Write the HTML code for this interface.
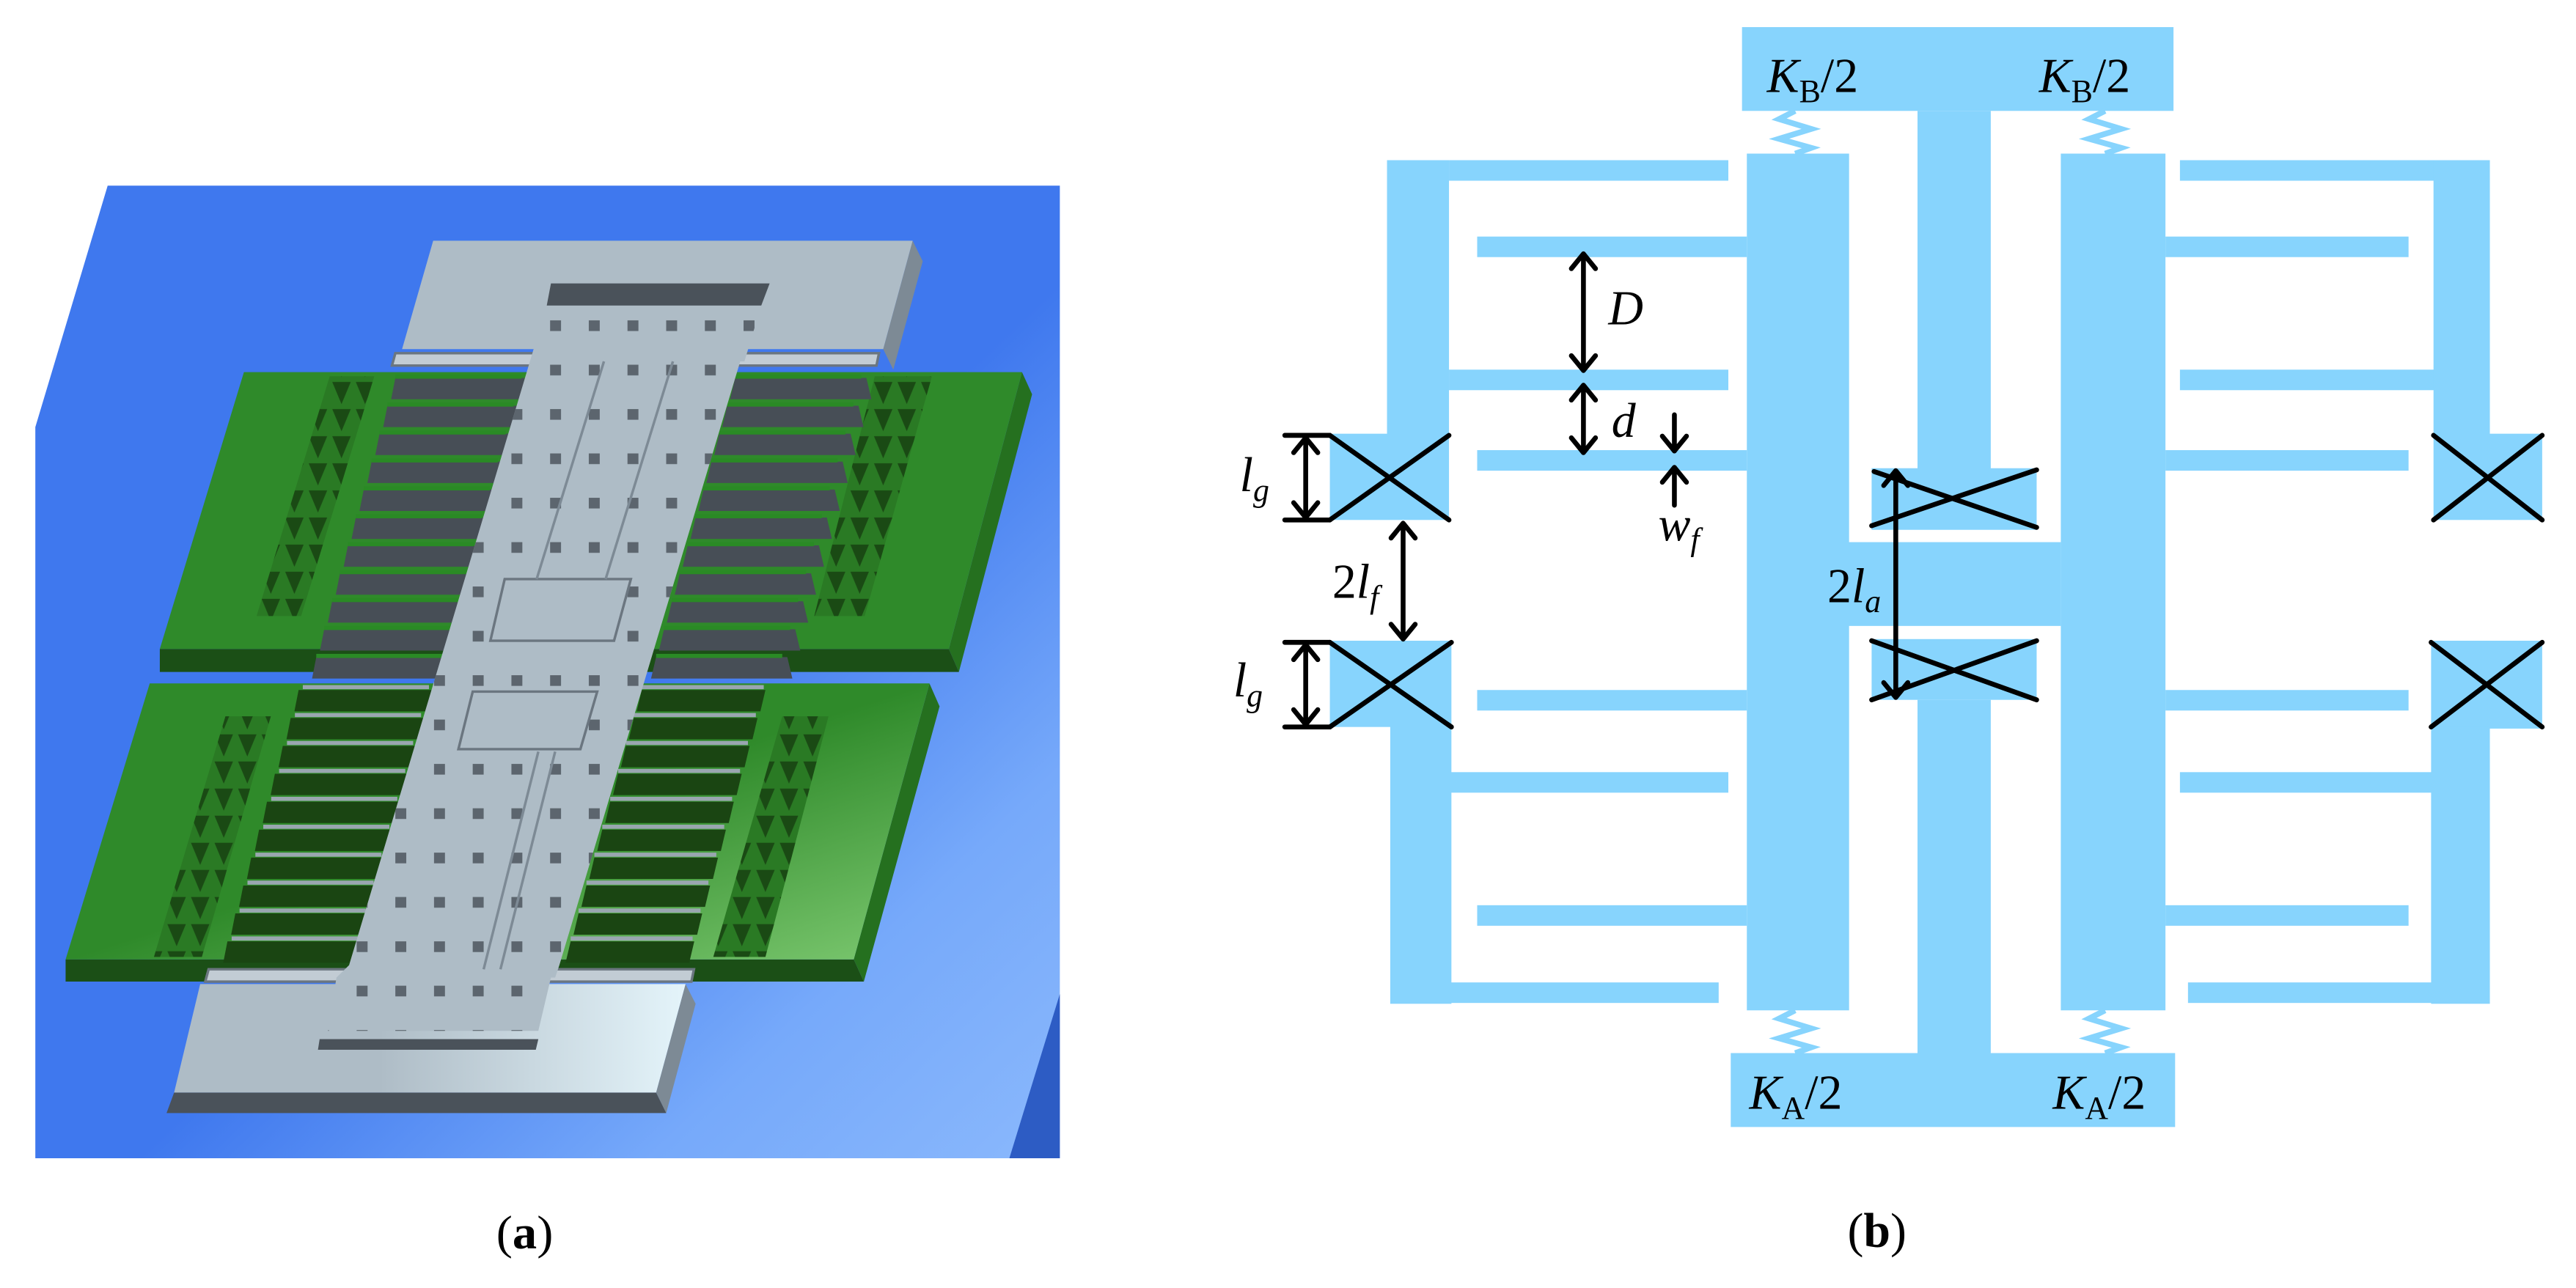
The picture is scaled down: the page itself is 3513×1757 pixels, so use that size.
<!DOCTYPE html>
<html><head><meta charset="utf-8"><style>html,body{margin:0;padding:0;background:#fff}svg{display:block}</style></head>
<body>
<svg width="3513" height="1757" viewBox="0 0 1568 784" preserveAspectRatio="none" xmlns="http://www.w3.org/2000/svg">
<defs>
<linearGradient id="bg" x1="0" y1="0" x2="1" y2="1">
<stop offset="0.55" stop-color="#3f78ee"/><stop offset="0.8" stop-color="#76a9fa"/><stop offset="1" stop-color="#8ab8fc"/>
</linearGradient>
<linearGradient id="gr2" x1="0" y1="0" x2="1" y2="1">
<stop offset="0.5" stop-color="#2f8a2a"/><stop offset="1" stop-color="#7cc870"/>
</linearGradient>
<linearGradient id="gy2" x1="0" y1="0" x2="1" y2="0">
<stop offset="0.4" stop-color="#aebcc6"/><stop offset="1" stop-color="#e4f4fa"/>
</linearGradient>
<pattern id="dots" patternUnits="userSpaceOnUse" width="46" height="54">
<rect x="10" y="12" width="13" height="13" fill="#4e565e"/>
</pattern>
<pattern id="grid" patternUnits="userSpaceOnUse" width="28" height="33">
<rect width="28" height="33" fill="#2a7a24"/>
<polygon points="3,3 25,3 14,30" fill="#1a4a14"/>
</pattern>
</defs>

<!-- (a) -->
<g transform="scale(0.512,0.5)">
<polygon points="128,226 1260,226 1260,1410 42,1410 42,520" fill="url(#bg)"/>
<polygon points="1200,1410 1260,1210 1260,1410" fill="#2d5cc4"/>
<polygon points="1085,293 1097,318 1062,450 1050,425" fill="#7d8a95"/>
<polygon points="515,293 1085,293 1050,425 478,425" fill="#aebcc6"/>
<polygon points="1215,453 1227,480 1140,818 1128,790" fill="#25701f"/>
<polygon points="190,790 1128,790 1140,818 190,818" fill="#1b4f16"/>
<polygon points="290,453 1215,453 1128,790 190,790" fill="#2f8a2a"/>
<polygon points="1105,832 1117,860 1027,1195 1015,1168" fill="#25701f"/>
<polygon points="78,1168 1015,1168 1027,1195 78,1195" fill="#1b4f16"/>
<polygon points="178,832 1105,832 1015,1168 78,1168" fill="url(#gr2)"/>
<polygon points="392,458 445,458 358,750 305,750" fill="url(#grid)"/>
<polygon points="1040,458 1108,458 1028,750 968,750" fill="url(#grid)"/>
<polygon points="268,872 322,872 240,1165 183,1165" fill="url(#grid)"/>
<polygon points="930,872 985,872 910,1165 848,1165" fill="url(#grid)"/>
<g id="ful"><polygon points="470,460 624,460 618,486 465,486" fill="#474e56"/><rect x="470" y="456" width="150" height="5" fill="#2a8a25"/></g>
<use href="#ful" transform="translate(-9.4,34)"/><use href="#ful" transform="translate(-18.8,68)"/><use href="#ful" transform="translate(-28.2,102)"/><use href="#ful" transform="translate(-37.6,136)"/><use href="#ful" transform="translate(-47,170)"/><use href="#ful" transform="translate(-56.4,204)"/><use href="#ful" transform="translate(-65.8,238)"/><use href="#ful" transform="translate(-75.2,272)"/><use href="#ful" transform="translate(-84.6,306)"/><use href="#ful" transform="translate(-94,340)"/>
<g id="fur"><polygon points="874,460 1030,460 1036,486 868,486" fill="#474e56"/><rect x="874" y="456" width="150" height="5" fill="#2a8a25"/></g>
<use href="#fur" transform="translate(-9.4,34)"/><use href="#fur" transform="translate(-18.8,68)"/><use href="#fur" transform="translate(-28.2,102)"/><use href="#fur" transform="translate(-37.6,136)"/><use href="#fur" transform="translate(-47,170)"/><use href="#fur" transform="translate(-56.4,204)"/><use href="#fur" transform="translate(-65.8,238)"/><use href="#fur" transform="translate(-75.2,272)"/><use href="#fur" transform="translate(-84.6,306)"/><use href="#fur" transform="translate(-94,340)"/>
<g id="fll"><rect x="360" y="834" width="150" height="5" fill="#9aa6b0"/><polygon points="355,840 513,840 507,866 350,866" fill="#1a4512"/></g>
<use href="#fll" transform="translate(-9.4,34)"/><use href="#fll" transform="translate(-18.8,68)"/><use href="#fll" transform="translate(-28.2,102)"/><use href="#fll" transform="translate(-37.6,136)"/><use href="#fll" transform="translate(-47,170)"/><use href="#fll" transform="translate(-56.4,204)"/><use href="#fll" transform="translate(-65.8,238)"/><use href="#fll" transform="translate(-75.2,272)"/><use href="#fll" transform="translate(-84.6,306)"/>
<g id="flr"><rect x="763" y="834" width="145" height="5" fill="#9aa6b0"/><polygon points="763,840 910,840 904,866 757,866" fill="#1a4512"/></g>
<use href="#flr" transform="translate(-9.4,34)"/><use href="#flr" transform="translate(-18.8,68)"/><use href="#flr" transform="translate(-28.2,102)"/><use href="#flr" transform="translate(-37.6,136)"/><use href="#flr" transform="translate(-47,170)"/><use href="#flr" transform="translate(-56.4,204)"/><use href="#flr" transform="translate(-65.8,238)"/><use href="#flr" transform="translate(-75.2,272)"/><use href="#flr" transform="translate(-84.6,306)"/>
<polygon points="470,430 1045,430 1042,445 466,445" fill="#c2ccd4" stroke="#6b7680" stroke-width="3"/>
<polygon points="248,1180 825,1180 822,1195 244,1195" fill="#c2ccd4" stroke="#6b7680" stroke-width="3"/>
<polygon points="815,1198 827,1222 792,1355 780,1330" fill="#7d8a95"/>
<polygon points="207,1330 780,1330 792,1355 198,1355" fill="#4a525a"/>
<polygon points="238,1198 815,1198 780,1330 207,1330" fill="url(#gy2)"/>
<polygon points="655,345 915,345 905,372 650,372" fill="#4a525a"/>
<polygon points="650,372 905,372 885,440 880,440 665,1175 660,1190 655,1190 640,1255 390,1255 400,1190 415,1175 630,440" fill="#aebcc6"/>
<polygon points="650,372 905,372 885,440 880,440 665,1175 660,1190 655,1190 640,1255 390,1255 400,1190 415,1175 630,440" fill="url(#dots)" opacity="0.85"/>
<polygon points="632,705 750,705 730,780 583,780 600,705" fill="#aebcc6" stroke="#6b7680" stroke-width="3"/>
<polygon points="562,842 710,842 690,912 545,912" fill="#aebcc6" stroke="#6b7680" stroke-width="3"/>
<polyline points="718,440 638,705" fill="none" stroke="#7d8a95" stroke-width="3"/>
<polyline points="800,440 720,705" fill="none" stroke="#7d8a95" stroke-width="3"/>
<polyline points="640,915 575,1180" fill="none" stroke="#7d8a95" stroke-width="3"/>
<polyline points="660,915 595,1180" fill="none" stroke="#7d8a95" stroke-width="3"/>
<polygon points="380,1265 640,1265 637,1278 378,1278" fill="#4a525a"/>
<text x="590" y="1520" font-family="Liberation Serif, serif" font-size="58">(<tspan font-weight="bold">a</tspan>)</text>
</g>

<!-- (b) -->
<g transform="translate(803.6,0) scale(0.49,0.5)" fill="#87d4fd">
<rect x="524" y="33" width="536" height="102"/>
<rect x="742" y="135" width="91" height="440"/>
<rect x="685" y="570" width="205" height="75"/>
<rect x="655" y="660" width="265" height="102"/>
<rect x="685" y="778" width="205" height="74"/>
<rect x="742" y="852" width="91" height="433"/>
<rect x="510" y="1282" width="552" height="90"/>
<rect x="530" y="187" width="127" height="1043"/>
<rect x="920" y="187" width="130" height="1043"/>
<rect x="195" y="288" width="335" height="25"/><rect x="195" y="548" width="335" height="25"/><rect x="195" y="840" width="335" height="25"/><rect x="195" y="1102" width="335" height="25"/>
<rect x="1050" y="288" width="302" height="25"/><rect x="1050" y="548" width="302" height="25"/><rect x="1050" y="840" width="302" height="25"/><rect x="1050" y="1102" width="302" height="25"/>
<rect x="160" y="195" width="347" height="25"/><rect x="160" y="450" width="347" height="25"/><rect x="160" y="940" width="347" height="25"/><rect x="160" y="1196" width="335" height="25"/>
<rect x="1068" y="195" width="320" height="25"/><rect x="1068" y="450" width="320" height="25"/><rect x="1068" y="940" width="320" height="25"/><rect x="1078" y="1196" width="310" height="25"/>
<rect x="83" y="195" width="77" height="340"/>
<rect x="12" y="528" width="148" height="105"/>
<rect x="12" y="780" width="151" height="105"/>
<rect x="87" y="880" width="76" height="342"/>
<rect x="1383" y="195" width="70" height="340"/>
<rect x="1383" y="528" width="135" height="105"/>
<rect x="1380" y="780" width="138" height="107"/>
<rect x="1380" y="885" width="73" height="337"/>
<g fill="none" stroke="#87d4fd" stroke-width="7">
<polyline points="590,135 570,145 610,157 570,169 610,180 590,187"/>
<polyline points="975,135 955,145 995,157 955,169 995,180 975,187"/>
<polyline points="590,1230 570,1240 610,1252 570,1264 610,1275 590,1282"/>
<polyline points="975,1230 955,1240 995,1252 955,1264 995,1275 975,1282"/>
</g>
<g stroke="#000" stroke-width="6" fill="none" stroke-linecap="round" stroke-linejoin="round">
<line x1="12" y1="530" x2="160" y2="633"/><line x1="12" y1="633" x2="160" y2="530"/>
<line x1="12" y1="782" x2="163" y2="885"/><line x1="12" y1="885" x2="163" y2="782"/>
<line x1="1383" y1="633" x2="1518" y2="530"/><line x1="1383" y1="530" x2="1518" y2="633"/>
<line x1="1380" y1="885" x2="1518" y2="782"/><line x1="1380" y1="782" x2="1518" y2="885"/>
<line x1="685" y1="640" x2="890" y2="572"/><line x1="688" y1="574" x2="890" y2="642"/>
<line x1="685" y1="852" x2="890" y2="780"/><line x1="685" y1="780" x2="890" y2="852"/>
<line x1="-44" y1="530" x2="12" y2="530"/><line x1="-44" y1="633" x2="12" y2="633"/>
<line x1="-44" y1="782" x2="12" y2="782"/><line x1="-44" y1="885" x2="12" y2="885"/>
<!-- arrows -->
<path d="M-18,533 V630 M-33,551 L-18,533 L-3,551 M-33,612 L-18,630 L-3,612"/>
<path d="M-18,785 V882 M-33,803 L-18,785 L-3,803 M-33,864 L-18,882 L-3,864"/>
<path d="M103,637 V778 M88,655 L103,637 L118,655 M88,760 L103,778 L118,760"/>
<path d="M327,309 V451 M312,327 L327,309 L342,327 M312,433 L327,451 L342,433"/>
<path d="M327,469 V551 M312,487 L327,469 L342,487 M312,533 L327,551 L342,533"/>
<path d="M440,505 V549 M425,531 L440,549 L455,531"/>
<path d="M440,615 V569 M425,587 L440,569 L455,587"/>
<path d="M715,573 V849 M700,591 L715,573 L730,591 M700,831 L715,849 L730,831"/>
</g>
<g fill="#000" font-family="Liberation Serif, serif" font-size="60">
<text x="555" y="112"><tspan font-style="italic">K</tspan><tspan font-size="40" dy="12">B</tspan><tspan dy="-12">/2</tspan></text>
<text x="893" y="112"><tspan font-style="italic">K</tspan><tspan font-size="40" dy="12">B</tspan><tspan dy="-12">/2</tspan></text>
<text x="533" y="1350"><tspan font-style="italic">K</tspan><tspan font-size="40" dy="12">A</tspan><tspan dy="-12">/2</tspan></text>
<text x="910" y="1350"><tspan font-style="italic">K</tspan><tspan font-size="40" dy="12">A</tspan><tspan dy="-12">/2</tspan></text>
<text x="358" y="395" font-style="italic">D</text>
<text x="362" y="532" font-style="italic">d</text>
<text x="420" y="658" font-style="italic">w<tspan font-size="40" dy="12">f</tspan></text>
<text x="15" y="728">2<tspan font-style="italic">l</tspan><tspan font-size="40" dy="12" font-style="italic">f</tspan></text>
<text x="630" y="733">2<tspan font-style="italic">l</tspan><tspan font-size="40" dy="12" font-style="italic">a</tspan></text>
<text x="-100" y="598" font-style="italic">l<tspan font-size="40" dy="12">g</tspan></text>
<text x="-108" y="848" font-style="italic">l<tspan font-size="40" dy="12">g</tspan></text>
<text x="655" y="1518">(<tspan font-weight="bold">b</tspan>)</text>
</g>
</g>
</svg>
</body></html>
